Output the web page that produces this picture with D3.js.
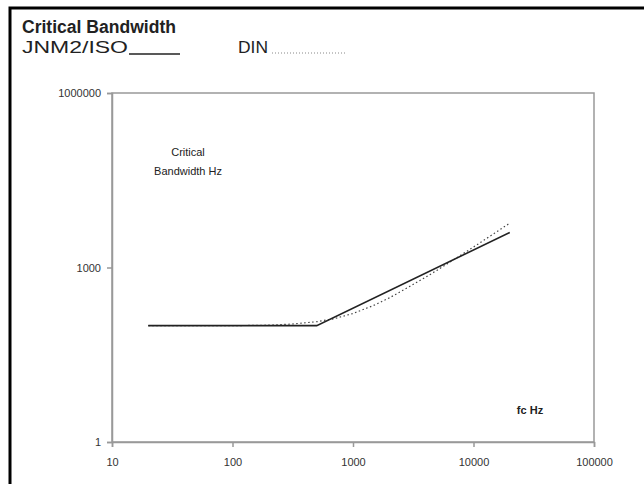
<!DOCTYPE html>
<html>
<meta charset="utf-8" />
<head>
<title>Critical Bandwidth</title>
<style>
  body { margin: 0; background: #fff; }
  text { font-family: "Liberation Sans", Arial, sans-serif; }
</style>
</head>
<body>
<div id="chart"></div>
<script src="https://cdn.jsdelivr.net/npm/d3@7"></script>
<script>
// JNM2/ISO (solid)
var isoFreq = [20, 500, 20000];
var isoBw = [100, 100, 4000];
// DIN (dotted)
var dinFreq = [20, 50, 100, 200, 300, 500, 700, 1000, 1500, 2000, 3000, 4000, 5000, 7000, 10000, 15000, 20000];
var dinBw = [100, 100, 100, 102, 106, 117, 132, 162, 225, 300, 480, 680, 900, 1400, 2250, 3900, 5800];
var xTicks = [10, 100, 1000, 10000, 100000];
var yTicks = [1, 1000, 1000000];

var width = 644, height = 484;
var plotL = 112, plotR = 594, plotT = 93, plotB = 442;

var svg = d3.select("#chart").append("svg").attr("width", width).attr("height", height);

// outer frame (only left and top edges show)
svg.append("path").attr("d", "M10,484 V8 H644").attr("fill", "none").attr("stroke", "#000").attr("stroke-width", 3);

svg.append("text").attr("x", 22).attr("y", 33).attr("font-size", 18).attr("font-weight", "bold").attr("fill", "#222")
  .attr("textLength", 154).attr("lengthAdjust", "spacingAndGlyphs").text("Critical Bandwidth");
svg.append("text").attr("x", 22).attr("y", 53).attr("font-size", 17).attr("fill", "#222")
  .attr("textLength", 106).attr("lengthAdjust", "spacingAndGlyphs").text("JNM2/ISO");
svg.append("line").attr("x1", 129).attr("x2", 180).attr("y1", 54).attr("y2", 54).attr("stroke", "#222").attr("stroke-width", 1.5);
svg.append("text").attr("x", 238).attr("y", 53).attr("font-size", 17).attr("fill", "#222")
  .attr("textLength", 30).attr("lengthAdjust", "spacingAndGlyphs").text("DIN");
svg.append("line").attr("x1", 272).attr("x2", 345).attr("y1", 53).attr("y2", 53).attr("stroke", "#888").attr("stroke-width", 1).attr("stroke-dasharray", "1,2");

var x = d3.scaleLog().domain([10, 100000]).range([plotL, plotR]);
var y = d3.scaleLog().domain([1, 1000000]).range([plotB, plotT]);

// plot box
svg.append("rect").attr("x", plotL).attr("y", plotT).attr("width", plotR - plotL).attr("height", plotB - plotT)
  .attr("fill", "none").attr("stroke", "#999").attr("stroke-width", 1.5);

var xAxis = svg.append("g").attr("transform", "translate(0," + plotB + ")")
  .call(d3.axisBottom(x).tickValues(xTicks).tickFormat(d3.format("d")).tickSize(5).tickPadding(11));
var yAxis = svg.append("g").attr("transform", "translate(" + plotL + ",0)")
  .call(d3.axisLeft(y).tickValues(yTicks).tickFormat(d3.format("d")).tickSize(5).tickPadding(6));
[xAxis, yAxis].forEach(function(a) {
  a.select(".domain").attr("stroke", "#999").attr("stroke-width", 1.5);
  a.selectAll(".tick line").attr("stroke", "#999").attr("stroke-width", 1.5);
  a.selectAll("text").attr("font-family", "Liberation Sans, Arial, sans-serif").attr("font-size", 11).attr("fill", "#333");
});

var line = d3.line().x(function(d) { return x(d[0]); }).y(function(d) { return y(d[1]); });

svg.append("path").datum(dinFreq.map(function(f, i) { return [f, dinBw[i]]; }))
  .attr("d", line).attr("fill", "none").attr("stroke", "#444").attr("stroke-width", 1.2).attr("stroke-dasharray", "1.5,2.5");
svg.append("path").datum(isoFreq.map(function(f, i) { return [f, isoBw[i]]; }))
  .attr("d", line).attr("fill", "none").attr("stroke", "#222").attr("stroke-width", 1.6);

svg.append("text").attr("x", 188).attr("y", 156).attr("text-anchor", "middle").attr("font-size", 11).attr("fill", "#222").text("Critical");
svg.append("text").attr("x", 188).attr("y", 175).attr("text-anchor", "middle").attr("font-size", 11).attr("fill", "#222").text("Bandwidth Hz");
svg.append("text").attr("x", 530).attr("y", 414).attr("text-anchor", "middle").attr("font-size", 11).attr("font-weight", "bold").attr("fill", "#222").text("fc Hz");
</script>
</body>
</html>
